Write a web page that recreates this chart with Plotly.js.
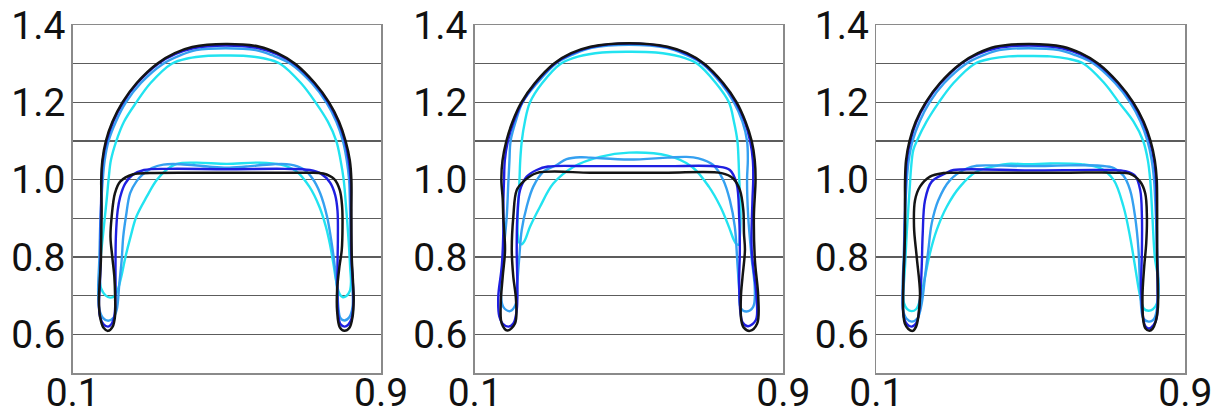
<!DOCTYPE html>
<html><head><meta charset="utf-8">
<script src="https://cdn.plot.ly/plotly-3.0.1.min.js"></script>
<style>html,body{margin:0;padding:0;background:#fff}#chart{width:1212px;height:410px}</style>
</head><body><div id="chart"></div>
<script>
// axis values
const xTicks = [0.1, 0.9];
const xTickText = ['0.1', '0.9'];
const yTicks = [0.6, 0.8, 1.0, 1.2, 1.4];
const yTickText = ['0.6', '0.8', '1.0', '1.2', '1.4'];
const yMinorGrid = [0.7, 0.9, 1.1, 1.3];
const xRange = [0.1, 0.9];
const yRange = [0.5, 1.4];

// ---------- Panel 1 ----------
const p1_cyan = [[0.495,1.321],[0.55,1.320],[0.595,1.314],[0.638,1.3],[0.692,1.25],[0.730,1.2],[0.762,1.15],[0.784,1.1],[0.795,1.05],[0.803,1.0],[0.810,0.92],[0.816,0.84],[0.820,0.77],[0.822,0.735],[0.819,0.712],[0.810,0.699],[0.801,0.696],[0.793,0.703],[0.786,0.725],[0.776,0.785],[0.767,0.835],[0.757,0.878],[0.740,0.930],[0.714,0.982],[0.680,1.022],[0.640,1.039],[0.58,1.044],[0.5,1.041],[0.42,1.044],[0.37,1.041],[0.345,1.027],[0.318,0.999],[0.292,0.956],[0.265,0.904],[0.250,0.852],[0.237,0.801],[0.226,0.749],[0.215,0.710],[0.207,0.698],[0.197,0.695],[0.185,0.701],[0.174,0.718],[0.170,0.745],[0.172,0.792],[0.179,0.861],[0.188,0.947],[0.193,1.0],[0.199,1.05],[0.213,1.1],[0.233,1.15],[0.265,1.2],[0.302,1.25],[0.357,1.3],[0.40,1.314],[0.445,1.320],[0.495,1.321]];
const p1_lightblue = [[0.497,1.340],[0.575,1.335],[0.617,1.322],[0.665,1.3],[0.72,1.25],[0.758,1.2],[0.784,1.15],[0.801,1.1],[0.811,1.05],[0.817,1.0],[0.820,0.9],[0.822,0.8],[0.826,0.72],[0.826,0.67],[0.818,0.645],[0.805,0.636],[0.794,0.643],[0.790,0.663],[0.786,0.715],[0.780,0.775],[0.772,0.835],[0.760,0.904],[0.742,0.965],[0.722,1.003],[0.697,1.028],[0.665,1.039],[0.62,1.040],[0.55,1.034],[0.5,1.031],[0.45,1.034],[0.38,1.040],[0.335,1.039],[0.305,1.030],[0.281,1.013],[0.265,0.995],[0.249,0.965],[0.238,0.904],[0.231,0.852],[0.227,0.792],[0.221,0.732],[0.214,0.663],[0.205,0.642],[0.192,0.635],[0.179,0.642],[0.169,0.665],[0.166,0.715],[0.169,0.792],[0.172,0.9],[0.178,1.0],[0.183,1.05],[0.193,1.1],[0.212,1.15],[0.238,1.2],[0.277,1.25],[0.335,1.3],[0.38,1.322],[0.42,1.335],[0.497,1.340]];
const p1_blue = [[0.497,1.347],[0.583,1.340],[0.628,1.325],[0.674,1.3],[0.726,1.25],[0.763,1.2],[0.789,1.15],[0.806,1.1],[0.816,1.05],[0.821,1.0],[0.822,0.9],[0.823,0.8],[0.827,0.73],[0.828,0.68],[0.824,0.643],[0.815,0.625],[0.805,0.620],[0.795,0.626],[0.789,0.65],[0.787,0.7],[0.787,0.78],[0.788,0.85],[0.787,0.92],[0.781,0.96],[0.768,0.992],[0.745,1.015],[0.715,1.025],[0.65,1.028],[0.5,1.027],[0.35,1.028],[0.285,1.025],[0.255,1.012],[0.236,0.99],[0.223,0.955],[0.2166,0.92],[0.212,0.852],[0.211,0.775],[0.211,0.697],[0.208,0.647],[0.201,0.627],[0.192,0.620],[0.180,0.626],[0.171,0.645],[0.168,0.675],[0.1707,0.732],[0.1725,0.8],[0.173,0.9],[0.175,1.0],[0.178,1.05],[0.188,1.1],[0.205,1.15],[0.231,1.2],[0.268,1.25],[0.322,1.3],[0.367,1.325],[0.412,1.340],[0.497,1.347]];
const p1_black = [[0.497,1.351],[0.585,1.344],[0.63,1.328],[0.677,1.3],[0.728,1.25],[0.765,1.2],[0.791,1.15],[0.808,1.1],[0.819,1.05],[0.823,1.0],[0.823,0.92],[0.824,0.8],[0.827,0.74],[0.829,0.69],[0.826,0.645],[0.818,0.617],[0.805,0.609],[0.793,0.618],[0.786,0.66],[0.786,0.715],[0.792,0.775],[0.798,0.818],[0.800,0.878],[0.799,0.93],[0.793,0.973],[0.778,1.002],[0.75,1.016],[0.70,1.018],[0.6,1.018],[0.5,1.018],[0.4,1.018],[0.30,1.017],[0.257,1.014],[0.223,0.995],[0.2096,0.965],[0.201,0.904],[0.198,0.852],[0.2026,0.801],[0.208,0.749],[0.210,0.697],[0.2096,0.646],[0.2036,0.620],[0.192,0.609],[0.180,0.617],[0.171,0.645],[0.168,0.69],[0.170,0.735],[0.173,0.79],[0.174,0.85],[0.175,0.92],[0.174,1.0],[0.177,1.05],[0.186,1.1],[0.203,1.15],[0.229,1.2],[0.266,1.25],[0.319,1.3],[0.365,1.327],[0.41,1.343],[0.497,1.351]];

// ---------- Panel 2 ----------
const p2_cyan = [[0.50,1.331],[0.57,1.329],[0.63,1.319],[0.677,1.3],[0.725,1.25],[0.759,1.2],[0.772,1.15],[0.781,1.1],[0.784,1.05],[0.7855,1.008],[0.7891,0.9215],[0.7873,0.852],[0.7848,0.832],[0.778,0.834],[0.7718,0.844],[0.7589,0.878],[0.737,0.930],[0.7069,0.982],[0.6637,1.033],[0.6,1.062],[0.5,1.070],[0.4246,1.059],[0.3555,1.033],[0.3036,0.99],[0.2692,0.930],[0.2433,0.878],[0.2303,0.844],[0.2218,0.833],[0.215,0.838],[0.2114,0.86],[0.2114,0.904],[0.2156,0.99],[0.218,1.05],[0.222,1.1],[0.230,1.15],[0.2433,1.2],[0.275,1.25],[0.323,1.3],[0.37,1.319],[0.43,1.329],[0.50,1.331]];
const p2_lightblue = [[0.50,1.349],[0.597,1.341],[0.645,1.324],[0.69,1.3],[0.738,1.25],[0.772,1.2],[0.794,1.15],[0.806,1.1],[0.808,1.05],[0.806,1.0],[0.809,0.904],[0.8176,0.801],[0.8262,0.715],[0.8219,0.671],[0.8046,0.659],[0.79,0.667],[0.7856,0.715],[0.7805,0.792],[0.7743,0.878],[0.7614,0.947],[0.7442,0.999],[0.7183,1.038],[0.68,1.055],[0.649,1.059],[0.6,1.057],[0.5,1.052],[0.4,1.057],[0.373,1.058],[0.338,1.053],[0.3124,1.038],[0.2777,1.02],[0.2518,0.982],[0.2347,0.930],[0.2218,0.870],[0.2156,0.801],[0.2104,0.732],[0.207,0.680],[0.1915,0.660],[0.174,0.671],[0.1674,0.715],[0.1725,0.792],[0.1829,0.904],[0.187,0.99],[0.190,1.05],[0.193,1.1],[0.206,1.15],[0.224,1.2],[0.262,1.25],[0.31,1.3],[0.355,1.324],[0.403,1.341],[0.50,1.349]];
const p2_blue = [[0.50,1.352],[0.598,1.343],[0.648,1.326],[0.693,1.3],[0.742,1.25],[0.777,1.2],[0.800,1.15],[0.814,1.1],[0.821,1.05],[0.822,1.0],[0.82,0.947],[0.818,0.818],[0.8306,0.697],[0.8288,0.637],[0.8089,0.621],[0.795,0.63],[0.7891,0.654],[0.7855,0.732],[0.7873,0.818],[0.7855,0.904],[0.7788,0.99],[0.7614,1.025],[0.73,1.034],[0.6,1.035],[0.5,1.035],[0.4,1.035],[0.29,1.034],[0.2606,1.025],[0.2347,1.008],[0.2174,0.973],[0.2104,0.904],[0.2088,0.818],[0.2104,0.732],[0.2088,0.663],[0.2,0.628],[0.1871,0.620],[0.172,0.628],[0.1637,0.646],[0.161,0.697],[0.17,0.775],[0.174,0.861],[0.1743,0.947],[0.176,1.0],[0.178,1.05],[0.186,1.1],[0.201,1.15],[0.223,1.2],[0.258,1.25],[0.307,1.3],[0.352,1.326],[0.402,1.343],[0.50,1.352]];
const p2_black = [[0.50,1.353],[0.60,1.344],[0.65,1.327],[0.695,1.3],[0.744,1.25],[0.779,1.2],[0.802,1.15],[0.818,1.1],[0.826,1.05],[0.828,1.0],[0.8237,0.904],[0.8263,0.792],[0.835,0.697],[0.8323,0.628],[0.8133,0.609],[0.797,0.618],[0.791,0.637],[0.790,0.697],[0.7943,0.749],[0.8005,0.818],[0.798,0.861],[0.7963,0.9215],[0.7875,0.973],[0.77,1.003],[0.74,1.017],[0.6,1.018],[0.5,1.018],[0.4,1.018],[0.26,1.017],[0.226,0.995],[0.2088,0.973],[0.2,0.904],[0.196,0.818],[0.2,0.749],[0.207,0.689],[0.2044,0.628],[0.1845,0.610],[0.17,0.628],[0.1674,0.680],[0.1725,0.749],[0.1785,0.818],[0.174,0.904],[0.1725,0.95],[0.169,1.0],[0.172,1.05],[0.182,1.1],[0.198,1.15],[0.221,1.2],[0.256,1.25],[0.305,1.3],[0.35,1.327],[0.40,1.344],[0.50,1.353]];

// ---------- Panel 3 ----------
const p3_cyan = [[0.493,1.320],[0.55,1.319],[0.595,1.313],[0.637,1.3],[0.69,1.25],[0.728,1.2],[0.766,1.15],[0.791,1.1],[0.803,1.05],[0.809,1.0],[0.815,0.9],[0.821,0.8],[0.8306,0.732],[0.8264,0.68],[0.816,0.665],[0.8047,0.661],[0.793,0.666],[0.7832,0.697],[0.770,0.775],[0.757,0.852],[0.74,0.93],[0.714,1.0],[0.6795,1.03],[0.63,1.040],[0.55,1.042],[0.493,1.040],[0.44,1.041],[0.412,1.036],[0.36,1.021],[0.3168,0.982],[0.2824,0.930],[0.2565,0.870],[0.239,0.810],[0.2262,0.749],[0.2132,0.689],[0.203,0.665],[0.1917,0.660],[0.18,0.665],[0.172,0.68],[0.170,0.697],[0.1744,0.775],[0.1788,0.861],[0.1873,0.99],[0.190,1.03],[0.1959,1.077],[0.205,1.1],[0.23,1.15],[0.262,1.2],[0.300,1.25],[0.355,1.3],[0.398,1.313],[0.443,1.319],[0.493,1.320]];
const p3_lightblue = [[0.495,1.340],[0.573,1.335],[0.615,1.322],[0.663,1.3],[0.718,1.25],[0.757,1.2],[0.784,1.15],[0.802,1.1],[0.813,1.05],[0.819,1.0],[0.824,0.9],[0.827,0.8],[0.8306,0.715],[0.822,0.646],[0.815,0.636],[0.8047,0.633],[0.792,0.64],[0.7876,0.654],[0.7832,0.715],[0.7788,0.818],[0.770,0.904],[0.757,0.973],[0.74,1.01],[0.715,1.03],[0.68,1.036],[0.6,1.037],[0.5,1.035],[0.4,1.037],[0.36,1.036],[0.334,1.029],[0.291,0.999],[0.2606,0.947],[0.2435,0.887],[0.2347,0.818],[0.2262,0.749],[0.2176,0.680],[0.207,0.642],[0.1917,0.633],[0.178,0.641],[0.169,0.665],[0.168,0.72],[0.171,0.8],[0.174,0.9],[0.179,1.0],[0.184,1.05],[0.194,1.1],[0.212,1.15],[0.238,1.2],[0.276,1.25],[0.333,1.3],[0.378,1.322],[0.418,1.335],[0.495,1.340]];
const p3_blue = [[0.495,1.347],[0.581,1.340],[0.626,1.325],[0.672,1.3],[0.725,1.25],[0.763,1.2],[0.790,1.15],[0.808,1.1],[0.819,1.05],[0.824,1.0],[0.826,0.9],[0.827,0.8],[0.8281,0.715],[0.8264,0.646],[0.818,0.624],[0.8047,0.615],[0.796,0.622],[0.7917,0.637],[0.7858,0.715],[0.7876,0.818],[0.7876,0.904],[0.7832,0.973],[0.770,1.010],[0.745,1.022],[0.7,1.025],[0.5,1.024],[0.3,1.025],[0.2824,1.018],[0.2435,0.995],[0.2262,0.947],[0.2202,0.861],[0.2176,0.775],[0.2132,0.689],[0.205,0.632],[0.1917,0.620],[0.180,0.626],[0.171,0.645],[0.169,0.7],[0.1725,0.8],[0.174,0.9],[0.176,1.0],[0.179,1.05],[0.188,1.1],[0.204,1.15],[0.230,1.2],[0.267,1.25],[0.320,1.3],[0.365,1.325],[0.410,1.340],[0.495,1.347]];
const p3_black = [[0.495,1.351],[0.583,1.344],[0.628,1.328],[0.675,1.3],[0.727,1.25],[0.765,1.2],[0.792,1.15],[0.810,1.1],[0.821,1.05],[0.826,1.0],[0.827,0.92],[0.827,0.8],[0.829,0.72],[0.829,0.67],[0.823,0.632],[0.815,0.614],[0.807,0.609],[0.797,0.615],[0.7917,0.632],[0.789,0.697],[0.7935,0.775],[0.7987,0.835],[0.8005,0.904],[0.7961,0.965],[0.783,0.995],[0.757,1.015],[0.72,1.018],[0.6,1.018],[0.5,1.018],[0.4,1.018],[0.3,1.018],[0.2736,1.017],[0.2391,1.008],[0.2132,0.982],[0.2003,0.947],[0.1977,0.878],[0.2046,0.801],[0.2132,0.706],[0.2088,0.646],[0.203,0.620],[0.1943,0.609],[0.183,0.614],[0.174,0.628],[0.170,0.655],[0.170,0.732],[0.1744,0.861],[0.1744,0.95],[0.1745,1.0],[0.177,1.05],[0.186,1.1],[0.202,1.15],[0.228,1.2],[0.265,1.25],[0.318,1.3],[0.363,1.327],[0.408,1.344],[0.495,1.351]];

const panels = [
  {cyan: p1_cyan, lightblue: p1_lightblue, blue: p1_blue, black: p1_black},
  {cyan: p2_cyan, lightblue: p2_lightblue, blue: p2_blue, black: p2_black},
  {cyan: p3_cyan, lightblue: p3_lightblue, blue: p3_blue, black: p3_black}
];
const seriesOrder = ['cyan', 'lightblue', 'blue', 'black'];
const seriesColor = {cyan: '#22e3f0', lightblue: '#35a0f0', blue: '#1f1fe0', black: '#141414'};
const seriesWidth = {cyan: 2.4, lightblue: 2.4, blue: 2.4, black: 2.5};

const traces = [];
panels.forEach((p, i) => {
  const suf = i === 0 ? '' : String(i + 1);
  seriesOrder.forEach(name => {
    const pts = p[name];
    traces.push({
      type: 'scatter', mode: 'lines',
      x: pts.map(q => q[0]), y: pts.map(q => q[1]),
      xaxis: 'x' + suf, yaxis: 'y' + suf,
      line: {color: seriesColor[name], width: seriesWidth[name], shape: 'spline', smoothing: 1},
      hoverinfo: 'skip', showlegend: false
    });
  });
});

const xDomains = [[0.06, 0.3144], [0.3917, 0.6463], [0.723, 0.978]];
const yDomain = [0.0902, 0.939];
const font = {family: 'Roboto, "Open Sans", sans-serif', size: 39, color: '#111'};
const layout = {
  width: 1212, height: 410,
  margin: {l: 0, r: 0, t: 0, b: 0},
  paper_bgcolor: '#fff', plot_bgcolor: '#fff',
  showlegend: false, font: font
};
xDomains.forEach((d, i) => {
  const suf = i === 0 ? '' : String(i + 1);
  layout['xaxis' + suf] = {
    domain: d, range: xRange, anchor: 'y' + suf,
    tickmode: 'array', tickvals: xTicks, ticktext: xTickText,
    showgrid: false, zeroline: false, showline: true, mirror: true,
    linecolor: '#8a8a8a', linewidth: 1.5, ticks: '', ticklabelstandoff: -15,
    ticklabeloverflow: 'allow', tickfont: font, fixedrange: true
  };
  layout['yaxis' + suf] = {
    domain: yDomain, range: yRange, anchor: 'x' + suf,
    tickmode: 'array', tickvals: yTicks, ticktext: yTickText,
    showgrid: true, gridcolor: '#5c5c5c', gridwidth: 1.3,
    minor: {tickmode: 'array', tickvals: yMinorGrid, showgrid: true, gridcolor: '#5c5c5c', gridwidth: 1.3, ticks: ''},
    zeroline: false, showline: true, mirror: true,
    linecolor: '#8a8a8a', linewidth: 1.5, ticks: '', ticklabelstandoff: -2,
    ticklabeloverflow: 'allow', tickfont: font, fixedrange: true
  };
});

Plotly.newPlot('chart', traces, layout, {staticPlot: true, displayModeBar: false});
</script>
</body></html>
